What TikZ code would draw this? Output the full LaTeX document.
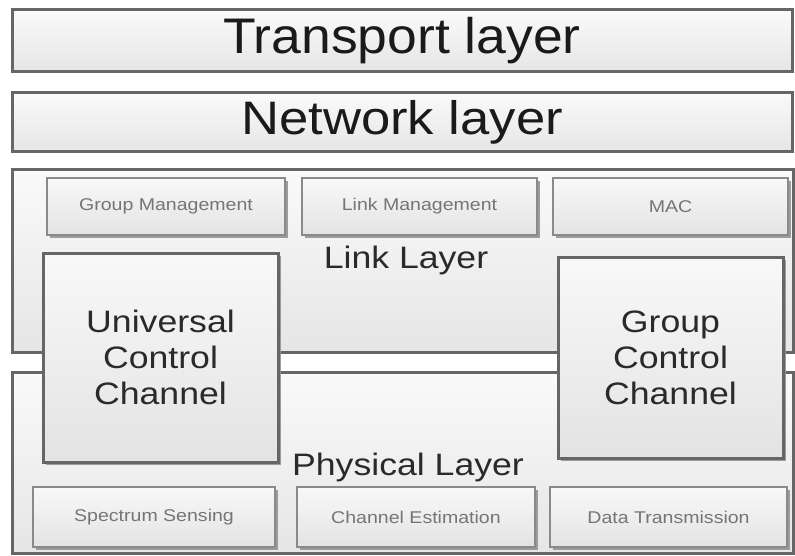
\documentclass[tikz,border=0pt]{standalone}
\usepackage{fontspec}
\usepackage{graphicx}
\setmainfont{Liberation Sans}
\usetikzlibrary{shadows}
\definecolor{bigtxt}{HTML}{1A1A1A}
\definecolor{midtxt}{HTML}{2A2A2A}
\definecolor{smalltxt}{HTML}{757575}
\definecolor{edge}{HTML}{666666}
\definecolor{edgelight}{HTML}{8A8A8A}
\newcommand{\stx}[2][1.15]{\scalebox{#1}[1]{#2}}
\tikzset{
  x=1pt, y=-1pt,
  layerbox/.style={draw=edge, line width=3pt, top color=gray!4, bottom color=gray!20,
    anchor=north west, inner sep=0pt, outer sep=0pt},
  subbox/.style={draw=edgelight, line width=2.5pt, top color=gray!5, bottom color=gray!22,
    anchor=north west, inner sep=0pt, outer sep=0pt,
    drop shadow={shadow xshift=3pt, shadow yshift=-3pt, fill=gray!85, opacity=0.9}},
  chanbox/.style={draw=edge, line width=3pt, top color=gray!5, bottom color=gray!22,
    anchor=north west, inner sep=0pt, outer sep=0pt, align=center,
    font=\fontsize{31}{36}\selectfont, text=midtxt,
    drop shadow={shadow xshift=3pt, shadow yshift=-3pt, fill=gray!85, opacity=0.9}},
  smalltext/.style={font=\fontsize{17}{20}\selectfont, text=smalltxt},
  midlabel/.style={font=\fontsize{31}{36}\selectfont, text=midtxt, anchor=base},
}
\begin{document}
\begin{tikzpicture}
\useasboundingbox[fill=white] (0,0) rectangle (795,556);
% top layers
\node[layerbox, minimum width=780, minimum height=62, font=\fontsize{50}{56}\selectfont, text=bigtxt]
  (transport) at (12,10) {\stx[1.07]{Transport layer}};
\node[layerbox, minimum width=780, minimum height=59, font=\fontsize{47}{52}\selectfont, text=bigtxt]
  (network) at (12,93) {\stx[1.12]{Network layer}};
% link and physical layers
\node[layerbox, minimum width=781, minimum height=182] (link) at (12,170) {};
\node[layerbox, minimum width=781, minimum height=181] (phys) at (12,372) {};
% link layer sub boxes
\node[subbox, minimum width=238, minimum height=57, smalltext] (gm) at (47,178) {\stx{Group Management}};
\node[subbox, minimum width=235, minimum height=57, smalltext] (lm) at (302,178) {\stx{Link Management}};
\node[subbox, minimum width=235, minimum height=57, smalltext] (mac) at (553,178) {\stx{MAC}};
\node[midlabel] (linklbl) at (406,268) {\stx{Link Layer}};
% physical layer sub boxes
\node[subbox, minimum width=242, minimum height=60, smalltext] (ss) at (33,487) {\stx{Spectrum Sensing}};
\node[subbox, minimum width=238, minimum height=60, smalltext] (ce) at (297,487) {\stx{Channel Estimation}};
\node[subbox, minimum width=237, minimum height=60, smalltext] (dt) at (550,487) {\stx{Data Transmission}};
\node[midlabel] (physlbl) at (408,475) {\stx{Physical Layer}};
% control channels
\node[chanbox, minimum width=235, minimum height=209] (ucc) at (43,253)
  {\stx{Universal}\\\stx{Control}\\\stx{Channel}};
\node[chanbox, minimum width=225, minimum height=201] (gcc) at (558,257)
  {\stx{Group}\\\stx{Control}\\\stx{Channel}};
\end{tikzpicture}
\end{document}
